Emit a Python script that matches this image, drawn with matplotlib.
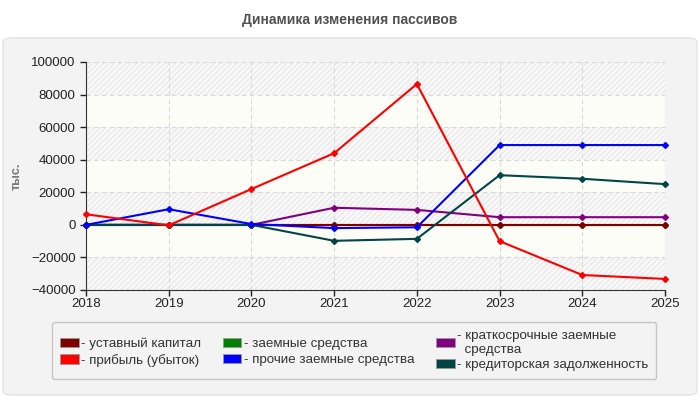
import matplotlib
matplotlib.use("Agg")
import matplotlib.pyplot as plt
from matplotlib.patches import FancyBboxPatch, Patch
import numpy as np

plt.rcParams['font.family'] = ['Liberation Sans', 'DejaVu Sans']
plt.rcParams['hatch.linewidth'] = 0.6

years = [2018, 2019, 2020, 2021, 2022, 2023, 2024, 2025]
ustavny = [0, 0, 0, 0, 0, 0, 0, 0]
pribyl = [6500, -300, 22000, 44000, 86500, -10000, -30800, -33200]
zaemnye = [0, 0, 0, 0, 0, 0, 0, 0]
prochie = [0, 9600, 500, -2000, -1500, 49000, 49000, 49000]
kratkosroch = [0, 0, 0, 10500, 9200, 4700, 4700, 4700]
kreditor = [0, 0, 0, -9800, -8600, 30500, 28300, 25000]

series = [
    ("- уставный капитал", ustavny, "#800000"),
    ("- прибыль (убыток)", pribyl, "#ff0000"),
    ("- заемные средства", zaemnye, "#008000"),
    ("- прочие заемные средства", prochie, "#0000ff"),
    ("- краткосрочные заемные\n  средства", kratkosroch, "#800080"),
    ("- кредиторская задолженность", kreditor, "#004646"),
]
draw_order = [2, 0, 4, 5, 3, 1]

fig = plt.figure(figsize=(7, 4), dpi=100)
fig.patch.set_facecolor("white")
panel = FancyBboxPatch((3 / 700, 5 / 400), 694 / 700, 357 / 400,
                       boxstyle="round,pad=0,rounding_size=0.012",
                       transform=fig.transFigure, facecolor="#f3f3f3",
                       edgecolor="#e2e2e2", linewidth=1, zorder=-10)
fig.patches.append(panel)

fig.text(0.5, 1 - 20 / 400, "Динамика изменения пассивов", ha="center", va="center",
         fontsize=10, fontweight="bold", color="#505050")

ax = fig.add_axes([86 / 700, 1 - 290 / 400, (665 - 86) / 700, (290 - 62) / 400])
ax.set_zorder(1)
ax.set_facecolor("#fdfdf8")
ax.set_xlim(2018, 2025)
ax.set_ylim(-40000, 100000)
yt = np.arange(-40000, 100001, 20000)
ax.set_yticks(yt)
ax.set_xticks(years)
ax.tick_params(labelsize=9.5, colors="#222222", length=4, width=1)
ax.tick_params(axis='x', pad=2)
for i in range(len(yt) - 1):
    if i % 2 == 0:
        ax.axhspan(yt[i], yt[i + 1], facecolor="#f8f8f8", hatch="//////",
                   edgecolor="#e3e3e3", linewidth=0, zorder=0)
ax.grid(True, color="#d8d8d8", linestyle=(0, (4, 3)), linewidth=0.8)
ax.set_axisbelow(True)
for s in ["top", "right"]:
    ax.spines[s].set_visible(False)
for s in ["left", "bottom"]:
    ax.spines[s].set_color("#333333")
ax.set_ylabel("тыс.", fontsize=9, fontweight="bold", color="#777777", labelpad=6)

for z, idx in enumerate(draw_order):
    lab, vals, col = series[idx]
    ax.plot(years, vals, color=col, linewidth=1.5, marker="D", markersize=3,
            zorder=3 + z, clip_on=False)

handles = [Patch(facecolor=c, edgecolor="#999999", linewidth=0.6) for _, _, c in series]
labels = [l for l, _, _ in series]
leg = fig.legend(handles, labels, ncol=3, loc="upper left",
                 bbox_to_anchor=(52 / 700, 1 - 322 / 400), fontsize=9.6,
                 frameon=True, fancybox=True, edgecolor="#bbbbbb",
                 facecolor="#f3f3f3", handlelength=1.4, handleheight=0.7,
                 handletextpad=0.2, columnspacing=1.6, labelspacing=0.25,
                 borderpad=0.6, borderaxespad=0)
leg.set_zorder(2)
for t in leg.get_texts():
    t.set_color("#333333")

fig.savefig("out.png", dpi=100, facecolor="white")
